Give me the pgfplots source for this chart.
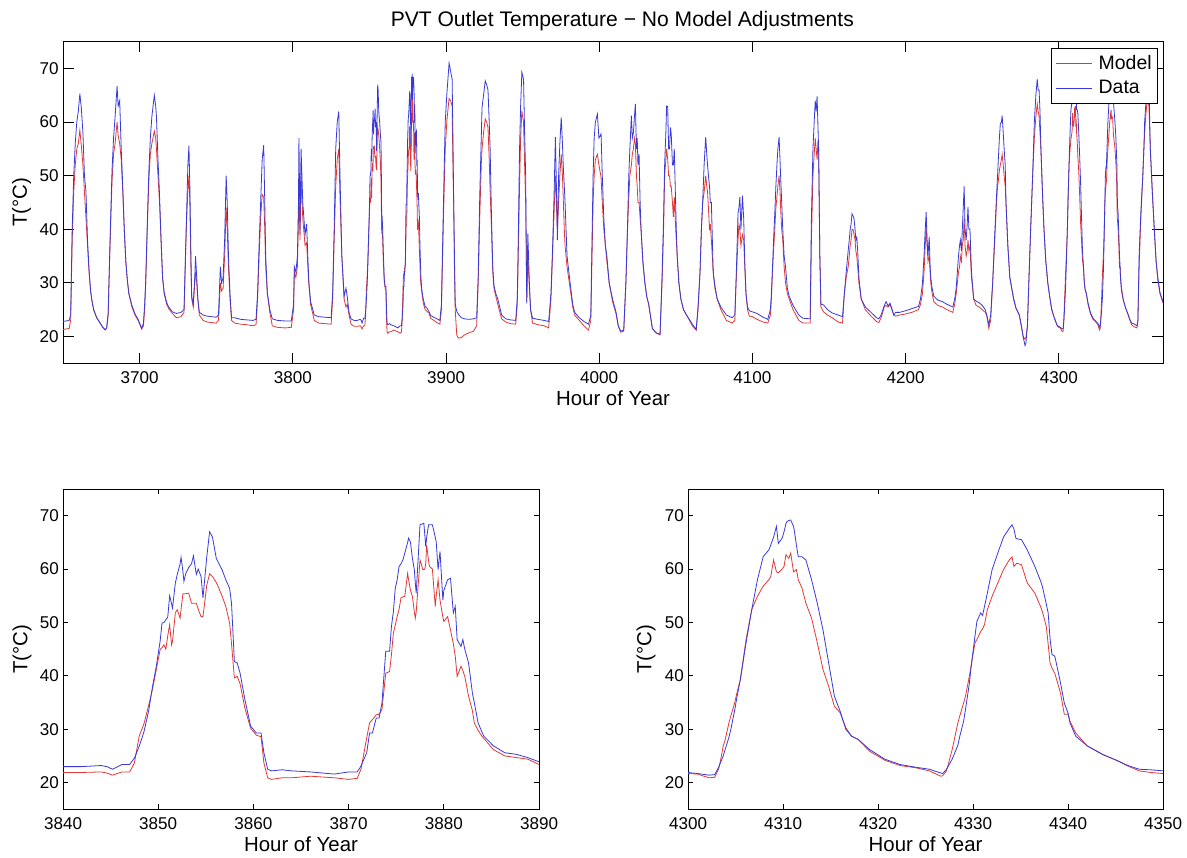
\documentclass[border=0pt]{standalone}
\usepackage{fontspec}
\setmainfont{Liberation Sans}
\usepackage{pgfplots}
\pgfplotsset{compat=1.18}
\usepackage{pgfplotstable}
\definecolor{mred}{rgb}{0.88,0.22,0.22}
\definecolor{mblue}{rgb}{0.22,0.22,0.86}
\pgfplotstableread{
h m d
3650 21.3 22.8
3652 21.4 22.9
3654 21.5 23.0
3655 23.0 24.0
3656 38 40
3657 47 50
3658 52 56
3659 55 60
3660 56 62
3661 58.5 65.3
3662 55.5 62.5
3663 52 58
3664 47 50
3665 42 47
3666 37 38
3667 32 32.5
3668 28.5 28.5
3669 26.5 26.5
3670 25 25
3672 23.5 23.5
3674 22.6 22.6
3676 21.7 21.7
3677.5 21.2 21.3
3678.5 21.5 21.6
3679.5 24 24.5
3680 30 30
3681 40 41
3682 49 51
3683 54 57
3684 56 61
3685.3 60 66.7
3686 57.5 63
3687 56 64
3688 53 55
3689 47 48
3690 40 40
3691 34 34
3692 30.5 30.5
3693 28 28
3695 25.5 25.8
3697 24 24.2
3699 23 23.2
3701.4 21.4 21.5
3702.5 22 22.5
3703.3 25 26
3704 30 30.5
3705 40 41
3706 49 50.5
3707 54 57
3708 56 61
3709.6 58.3 65
3710.5 57 63
3711 55 61
3712 50 53
3713 45 46.5
3714 38 38
3715 31 31
3716 28 28.3
3717.7 26 26.3
3719 25.2 25.5
3721.4 24.3 24.6
3724 23.5 24.3
3727 23.7 24.5
3729 24.5 25
3730 35 36
3730.7 42 43
3731.5 47 52
3732.2 50 55.6
3732.8 45 48
3733.5 33 35
3734 27 27.5
3735 25.5 26
3736 30 31
3736.5 32 35
3737.3 30 31
3738 27 27
3739 24 24.5
3741.5 23 24
3744 22.7 23.8
3747 22.6 23.7
3750 22.5 23.6
3751.5 23 24
3752.7 30 33
3753.5 28.5 30
3754.5 29 31
3755.5 35 38
3756.5 44 50
3757.2 40 45
3758 33 35
3759 27 28
3760 23 23.5
3762 22.5 23.5
3766 22.3 23.2
3770 22.2 23.1
3774 22 23
3776 22.2 23.2
3777 27 28
3778 35 37
3779 42 45
3780 46.5 53
3781 46 55.7
3781.7 40 45
3782.3 33 35
3783.4 28 28
3785 24.5 25
3786.6 22 23.3
3790 21.7 23
3795 21.6 22.9
3799 21.7 22.9
3800.5 25 26
3801 32 33
3802 31 32
3803 33 35
3803.7 42 45
3804 48 57
3804.7 38 40
3805.4 50 55
3806.5 42 45
3808 37 39
3809 37.5 41
3810.4 30 30.5
3811.6 26 26.5
3814 23 24
3817 22.5 23.7
3821 22.4 23.6
3825 22.3 23.5
3826 27 28
3827 38 40
3828 48 55
3829 53 60
3830 55 62
3830.8 46 50
3832 35 35
3833.5 27 27.5
3834.7 25.5 29
3835.5 26 27.5
3836.7 24 24.5
3838 22.3 23.3
3840 21.9 23.0
3842 21.9 23.0
3844 22.0 23.2
3844.6 21.8 23.0
3845.2 21.4 22.5
3846.2 22.0 23.4
3847.0 22.0 23.4
3847.5 23.7 24.6
3848.0 28.7 26.8
3848.5 31.0 29.5
3849.0 34.5 33.5
3849.4 37.5 38.0
3849.8 41.2 41.8
3850.2 44.9 46.5
3850.4 45.3 49.9
3850.6 45.8 50.0
3850.8 45.0 50.5
3851.0 47.5 51.0
3851.2 49.6 55.0
3851.4 45.8 53.5
3851.5 46.5 52.7
3851.8 51.8 57.4
3852.0 52.4 59.0
3852.3 50.8 61.0
3852.4 52.5 62.2
3852.6 55.4 59.5
3852.7 55.4 57.7
3852.9 55.4 59.2
3853.2 55.5 60.3
3853.5 53.6 61.0
3853.7 53.6 62.5
3854.0 53.6 59.0
3854.2 52.5 60.0
3854.5 51.1 58.6
3854.7 51.1 54.6
3855.1 57.0 62.3
3855.4 59.1 67.0
3855.7 58.6 66.0
3856.1 57.5 62.0
3856.3 56.7 61.3
3856.7 55.0 59.9
3857.1 53.0 58.0
3857.5 49.9 56.4
3857.7 46.0 53.6
3858.0 39.6 42.7
3858.3 39.9 42.4
3858.6 38.5 40.5
3859.1 34.0 35.6
3859.7 30.2 30.6
3860.3 28.9 29.3
3860.8 28.6 29.3
3861.1 23.7 25.6
3861.5 20.9 22.5
3861.9 20.6 22.2
3863 20.9 22.4
3864 20.9 22.2
3866 21.2 22.0
3868.5 20.9 21.6
3870 20.6 22.0
3870.9 20.8 22.0
3871.3 22.5 23.1
3871.9 28.4 25.6
3872.2 31.2 29.3
3872.5 31.8 29.3
3872.9 32.7 32.1
3873.2 32.8 32.1
3873.5 33.7 34.9
3873.9 40.5 44.6
3874.3 40.8 44.6
3874.5 44.0 49.3
3874.7 48.0 52.0
3874.9 49.5 56.4
3875.1 51.1 58.0
3875.3 52.5 60.5
3875.5 54.6 61.0
3875.7 54.8 61.7
3875.9 54.9 63.0
3876.2 59.2 65.0
3876.3 58.0 65.8
3876.5 56.0 65.0
3876.7 54.9 62.0
3876.9 52.0 59.9
3877.0 50.8 57.5
3877.1 52.0 55.5
3877.5 61.7 68.3
3877.8 59.9 68.5
3877.9 59.9 68.6
3878.0 60.0 66.5
3878.1 61.0 64.2
3878.2 64.5 66.0
3878.4 61.5 68.3
3878.5 60.5 68.3
3878.8 60.0 68.3
3879.1 53.0 66.0
3879.2 55.0 65.1
3879.4 58.0 59.9
3879.6 54.2 63.3
3879.9 51.0 54.2
3880.0 50.2 56.0
3880.4 51.1 58.0
3880.7 48.6 58.3
3881.0 46.0 51.8
3881.2 43.7 53.0
3881.4 39.9 46.8
3881.8 41.8 45.5
3882.0 41.0 46.8
3882.2 39.9 45.0
3882.6 36.2 42.4
3883.0 33.5 36.8
3883.2 31.2 35.0
3883.6 29.8 31.2
3884.0 28.7 29.5
3884.2 28.3 28.7
3885.2 26.2 26.9
3886.4 25.0 25.6
3887.6 24.7 25.3
3888.8 24.4 24.7
3890 23.4 23.9
3892 23.0 23.6
3894 22.6 23.3
3896 22.3 23.0
3897 25 26
3898 38 40
3899 50 54
3899.5 55 60
3900.5 60 65
3901.5 63 69
3902 64.4 71
3903 64 69.5
3904 63 68
3904.6 50 55
3905 45 45.4
3905.5 33 35
3906 25 26
3907 20.3 24.7
3908 19.7 24.2
3910 19.8 23.5
3912 20.3 23.3
3915 20.7 23.2
3918 21 23.3
3920 22 23.5
3921 30 31
3922 42 46
3923 52 57
3923.5 55 62.7
3924.5 58 65
3925.6 60.6 67.7
3926.5 60 67
3927.4 59 66
3928.2 53 60
3928.8 47 55
3929.7 40 42
3930.5 32 33
3931.3 29 29.5
3932.5 27.5 28
3933.8 26 27
3936.3 23.3 24
3939 22.7 23.3
3942 22.4 23.1
3945.5 22.3 23
3946.5 26 27
3947 33 35
3948 48 55
3948.7 57 63
3949.5 62.1 69.3
3950.6 60 68
3951.3 52 58
3952 45 50
3952.4 35 35
3952.7 26.5 26.2
3953.4 35 39.2
3954.4 29 30
3955.2 25 25
3956.5 22.5 23.4
3960 22.2 23.2
3964 22 23
3967 21.6 22.8
3968.5 27 28
3969.5 35 36
3970.4 42 45
3971.4 50 57.2
3972.2 44 46
3972.7 40 38
3973.5 45 50
3974.3 50 56
3975.2 54 60.9
3976 50 56
3976.5 46 52
3977.2 40 48
3977.7 37 45
3979 33 35
3981 29 30
3982.7 25.5 26
3984 24 24.5
3987 23 23.5
3990 22 22.8
3993 21.2 22.3
3994.5 23 24
3995.3 35 38
3996 45 50
3996.7 50 57
3997.5 53 60
3998.8 54 61.5
3999.8 52 57
4001.2 49.7 57.8
4002 45 50
4003 40 42
4004 37 37
4005 34 35
4006.5 30 30
4008.7 26.5 27
4011 24.2 24.5
4012.4 22 22
4014 20.8 21.0
4016 21 21.2
4017.4 30 30
4018.5 40 41
4019.3 46 50
4020 50 55
4021 52 61.2
4021.6 54 57
4022.3 55 58
4023 57 61
4023.6 55.9 63.4
4024.3 50 55
4024.8 48 57
4025.3 45 52
4026 45 54
4026.7 42 45
4027.3 40 40
4028.5 34 34
4029.8 30 30
4031 27.5 27.5
4032.3 26 26
4034.7 21.5 21.5
4037 20.7 20.7
4039.7 20.3 20.4
4041 30 31
4042 40 42
4042.7 50 52
4043.5 53 58
4044 55 63
4044.7 53 62.9
4045.3 50 55
4045.9 50 55
4046.5 48 59
4047 48 57.8
4047.8 45 52
4048.4 42.3 52
4049 46 55
4049.6 42 48
4050.3 38 40
4050.9 35 35
4052 30 30
4053.3 27 27
4055 25 25
4057 24 24
4060.8 22 22.3
4063.3 21.2 21.3
4064.5 25 25.5
4065.8 32 32
4066.7 40 40
4067.5 45 45
4068.5 47 52.2
4069.5 50 57.2
4070.2 48 54
4070.7 47 52
4071.3 44 50
4072 39.8 48
4072.5 41 45
4073.2 38 45
4074.4 32 32
4075.5 29 29.5
4077 27 27
4079.4 25 25.5
4083 23 24
4086.8 22.5 23.5
4088.5 23 24
4089.3 30 30
4090.6 38 43
4091.2 41 44
4091.8 40 46
4092.5 37 40
4093.5 39 46.3
4094.3 38 42
4095 33 34
4095.8 28 28
4096.8 25 25.5
4098 23.8 24.8
4100 23.7 24.6
4103 23.2 24.3
4107 22.7 23.6
4110 22.5 23.2
4111.7 24 25
4112.4 27 28
4113 32 32
4113.8 36 38
4114.6 40 43
4115.3 44 48
4116 46 52
4116.6 48 55
4117.4 50 57.2
4118 47 53
4118.4 44 50
4119.1 40 45
4119.8 38 40
4120.7 33 35
4121.6 30 33
4122.8 28 29
4124 27 27.5
4126.5 25 25.8
4130.3 23 24
4133 22.5 23.4
4137.7 22.5 23.3
4138.5 38 42
4139.5 50 55
4140.3 54 60
4141 57 64
4141.6 55 62
4142.2 53 64.8
4142.7 56 60
4143.2 55.3 55
4143.6 45 45
4144 35 35
4144.7 25.5 26
4146.4 24.6 25.9
4149 24 25
4152 23.5 24.4
4156 22.7 24.0
4158.8 22.5 23.7
4160 28 28
4161.2 31 32
4162.5 33 36
4163.2 35 38
4163.8 37 40
4164.4 38 41
4165 40 42.9
4165.7 40 42.5
4166.3 39 42
4167 38 40
4167.5 36 38
4168.1 35 38.5
4168.7 33 36
4169.5 30 31
4171 27 27
4173.7 25 25.5
4177.4 23.8 24.5
4181 22.8 23.5
4182.5 22.6 23.3
4184 23.5 24
4186 25.5 25.7
4187.2 25.8 26.5
4188.6 25.5 25.7
4189.8 26 26.2
4191 25 25.2
4192.3 24 24
4193.5 23.8 24.5
4196 24 24.5
4200 24.2 24.8
4204 24.5 25.2
4208.4 25 25.6
4209.7 26 27
4211 28 30
4212 32 35
4212.8 37 40
4213.4 40.4 43.2
4214 37 38
4214.6 34 35
4215.4 35 38.6
4216 32 33
4216.4 30 31
4217.3 28 29
4218.4 26.5 27.5
4221 25.8 26.8
4224 25.5 26.5
4227 25 26
4230.8 24.5 25.5
4232 26 27
4233 28 29
4234.5 32 35
4235.2 33 37
4235.7 35 38
4236.4 34 36
4237 37 40
4237.6 38 44
4238.2 42 48
4238.8 37 40
4239.5 35 38
4240.2 36 41
4240.7 38 44.2
4241.3 36 40
4242 37 40
4242.6 33 35
4243 31 32
4244.4 27 27
4246 25.8 26.6
4248 25.5 26.3
4250 25 25.8
4252 24.5 25
4253 23.8 24
4254.3 21.5 22.2
4255.5 23 24
4256.8 30 30
4258 37 38
4259.3 45 46
4260 48 50
4260.5 49 53
4261.2 51 57
4261.8 52 59.7
4262.5 53 60
4263 54 61.2
4263.7 52 58
4264.3 50 55
4265 48 52
4265.5 45 45
4266.7 37 37
4268 31 31
4270.5 27 27
4272 25.3 25.3
4274.2 24 24
4275.5 22 22
4276.7 20 20
4277.9 19.5 18.3
4278.5 19.8 18.8
4279.5 22 22
4280.4 30 30
4281.6 40 40
4282.9 50 50
4284 57 60
4285 61 65
4285.9 63.4 68
4286.5 62 66
4287.1 61.2 66
4287.7 58 62
4288.3 55 55
4289.3 47 47
4290.3 40 40
4291.5 34 34
4292.8 30 30
4294 27.5 27.5
4295.3 25 25.2
4297 23.5 23.5
4299 22 22
4300 21.7 21.9
4301 21.6 21.7
4302.2 20.9 21.4
4302.8 21.0 21.5
4303.2 22.5 22.8
4303.4 24.0 23.7
4303.7 26.9 25.0
4303.9 28.0 26.2
4304.3 31.2 28.5
4304.5 32.5 30.0
4304.9 34.9 33.5
4305.1 36.5 35.6
4305.5 39.3 39.3
4306.1 46.8 46.2
4306.7 52.4 52.4
4307.3 54.9 58.0
4307.9 56.8 62.3
4308.5 58.0 63.6
4308.7 58.6 64.5
4309.0 61.7 66.0
4309.3 59.5 68.0
4309.5 59.3 64.8
4309.9 60.0 65.8
4310.1 60.5 67.0
4310.3 62.7 68.5
4310.4 62.5 68.9
4310.6 62.0 69.1
4310.8 63.0 69.2
4311.1 59.5 68.0
4311.2 59.6 67.0
4311.4 59.9 64.5
4311.6 58.0 62.3
4312.0 56.4 62.3
4312.4 53.6 61.7
4313.0 50.8 58.0
4313.6 46.2 53.6
4314.2 41.2 48.6
4314.8 38.0 42.4
4315.4 34.3 36.2
4316.0 33.1 33.4
4316.6 30.3 30.0
4317.2 28.7 28.7
4317.9 28.1 28.1
4319.1 25.9 26.2
4320.7 24.2 24.4
4322.3 23.2 23.4
4323.9 22.8 22.9
4325.4 22.2 22.5
4326.6 21.2 21.8
4326.8 21.3 21.7
4327.2 22.2 22.5
4327.8 26.2 24.4
4328.4 31.2 27.0
4328.6 32.5 28.7
4329.0 34.9 31.5
4329.2 36.2 33.7
4329.6 39.9 38.5
4329.8 42.0 41.8
4330.2 46.2 47.5
4330.4 46.8 50.2
4330.8 48.3 51.8
4331.0 48.8 51.3
4331.2 49.6 53.0
4331.5 52.4 55.5
4332.0 54.9 59.9
4332.6 57.4 63.0
4333.2 59.9 66.0
4333.8 61.7 67.6
4334.1 62.3 68.3
4334.3 60.5 67.5
4334.5 60.9 65.8
4334.6 61.1 65.7
4335.1 60.8 65.5
4335.7 57.4 63.6
4336.5 55.5 60.5
4337.1 53.0 57.8
4337.3 52.0 56.7
4337.7 49.3 53.5
4337.9 46.0 51.8
4338.1 42.4 47.0
4338.3 41.5 44.0
4338.6 40.5 43.7
4339.2 36.8 38.7
4339.6 32.8 34.9
4340.0 32.8 33.0
4340.2 31.5 31.2
4340.8 29.3 28.7
4342.0 26.9 26.9
4343.6 25.3 25.3
4345.2 24.1 24.1
4346.3 23.1 23.2
4347.5 22.2 22.5
4348.7 21.9 22.4
4350 21.7 22.2
4351 21.6 22.0
4351.6 23 23
4352.4 33 35
4353.5 42 43
4354.8 50 50
4355.5 55 55
4356 58 60
4356.7 61 63
4357.3 63 65
4358.2 64 69
4358.8 63 67
4359.7 55 55
4361 47 47
4362.3 40 40
4363.5 34 34
4364.6 30.5 31
4366 28 28.2
4368 26.2 26.5
}\alldata

\pgfplotsset{
  pvt/.style={
    scale only axis,
    axis line style={line width=0.6pt, black},
    every tick/.style={line width=0.6pt, black},
    tick align=inside,
    tick pos=both,
    ymin=15, ymax=75, ytick={20,30,...,70},
    /pgf/number format/1000 sep={},
    /pgf/number format/assume math mode=true,
    ticklabel style={font=\fontsize{12.8}{14}\selectfont},
    xticklabel style={anchor=base, yshift=-15pt},
    yticklabel style={anchor=east, inner sep=0pt, xshift=-3pt},
    label style={font=\fontsize{15.3}{18}\selectfont},
    xlabel={Hour of Year},
    ylabel={T(°C)},
    xlabel style={at={(axis description cs:0.5,0)}, anchor=base, yshift=-31.5pt},
    every axis plot/.append style={line width=0.6pt, mark=none},
  },
}

\begin{document}
\begin{tikzpicture}
\begin{axis}[pvt,
  at={(47.25pt,370.275pt)}, anchor=south west,
  width=825pt, height=241.2pt,
  xmin=3650, xmax=4368,
  xtick={3700,3800,...,4300},
  major tick length=8pt,
  title={PVT Outlet Temperature − No Model Adjustments},
  title style={at={(axis description cs:0.5,1)}, anchor=base, yshift=5.5pt, xshift=7pt, font=\fontsize{15.8}{18}\selectfont},
  ylabel style={at={(axis description cs:-0.0376,0.5)}, anchor=center},
  legend style={at={(axis description cs:0.9955,0.9804)}, anchor=north east,
    draw=black, line width=0.6pt, fill=white,
    font=\fontsize{14.6}{17}\selectfont,
    inner xsep=3pt, inner ysep=4pt, row sep=3.5pt,
    nodes={inner sep=1.5pt}},
  legend cell align=left,
  legend image code/.code={\draw[#1] (0pt,0pt) -- (27pt,0pt);},
]
\addplot[mred] table[x=h, y=m] {\alldata};
\addplot[mblue] table[x=h, y=d] {\alldata};
\legend{\hspace{3.5pt}Model,\hspace{3.5pt}Data}
\end{axis}

\begin{axis}[pvt,
  at={(47.25pt,35.775pt)}, anchor=south west,
  width=357pt, height=240.2pt,
  xmin=3840, xmax=3890,
  xtick={3840,3850,...,3890},
  major tick length=4pt,
  ylabel style={at={(axis description cs:-0.0861,0.5)}, anchor=center},
]
\addplot[mred] table[x=h, y=m] {\alldata};
\addplot[mblue] table[x=h, y=d] {\alldata};
\end{axis}

\begin{axis}[pvt,
  at={(516pt,35.775pt)}, anchor=south west,
  width=356.25pt, height=240.2pt,
  xmin=4300, xmax=4350,
  xtick={4300,4310,...,4350},
  major tick length=4pt,
  ylabel style={at={(axis description cs:-0.0884,0.5)}, anchor=center},
]
\addplot[mred] table[x=h, y=m] {\alldata};
\addplot[mblue] table[x=h, y=d] {\alldata};
\end{axis}

\pgfresetboundingbox
\path[use as bounding box] (0pt,0pt) rectangle (890.25pt,642.75pt);
\end{tikzpicture}
\end{document}
